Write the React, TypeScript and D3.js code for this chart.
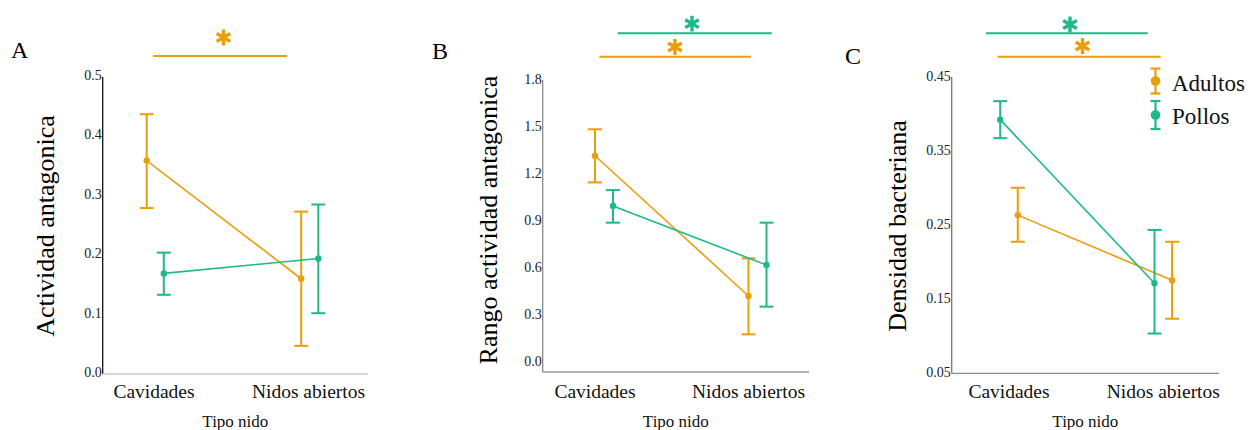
import React from "react";
import * as d3 from "d3";

// ---------- data ----------
const categories = ["Cavidades", "Nidos abiertos"];
const seriesNames = ["Adultos", "Pollos"];

// Panel A: Actividad antagonica
const aAdultosMean = [0.356, 0.157];
const aAdultosLow = [0.276, 0.044];
const aAdultosHigh = [0.434, 0.27];
const aPollosMean = [0.166, 0.191];
const aPollosLow = [0.13, 0.099];
const aPollosHigh = [0.201, 0.282];
const aTicks = [0, 0.1, 0.2, 0.3, 0.4, 0.5];

// Panel B: Rango actividad antagonica
const bAdultosMean = [1.31, 0.415];
const bAdultosLow = [1.14, 0.17];
const bAdultosHigh = [1.479, 0.655];
const bPollosMean = [0.989, 0.613];
const bPollosLow = [0.883, 0.347];
const bPollosHigh = [1.091, 0.883];
const bTicks = [0, 0.3, 0.6, 0.9, 1.2, 1.5, 1.8];

// Panel C: Densidad bacteriana
const cAdultosMean = [0.262, 0.174];
const cAdultosLow = [0.226, 0.122];
const cAdultosHigh = [0.299, 0.226];
const cPollosMean = [0.391, 0.17];
const cPollosLow = [0.366, 0.102];
const cPollosHigh = [0.416, 0.242];
const cTicks = [0.05, 0.15, 0.25, 0.35, 0.45];

// ---------- style ----------
const ORANGE = "#E99E0C";
const GREEN = "#1DBA84";
const SERIF = "'Liberation Serif', 'Times New Roman', serif";

type Series = { name: string; color: string; mean: number[]; low: number[]; high: number[]; dodge: number };
type Sig = { color: string; x1: number; x2: number; y: number; starX: number; starY: number };

type PanelProps = {
  letter: string;
  letterX: number;
  letterY: number;
  title: string;
  titleX: number;
  titleY: number;
  domain: [number, number];
  yRange: [number, number];
  ticks: number[];
  fmt: string;
  axisLeft: number;
  axisRight: number;
  axisTop: number;
  axisBottom: number;
  yAxisColor: string;
  xAxisColor: string;
  catRange: [number, number];
  series: Series[];
  sigs: Sig[];
};

const starPath = d3.symbol().type(d3.symbolAsterisk).size(175)() || "";

function Panel(p: PanelProps) {
  const y = d3.scaleLinear().domain(p.domain).range(p.yRange);
  const x = d3.scalePoint<string>().domain(categories).range(p.catRange);
  const f = d3.format(p.fmt);
  const line = d3
    .line<[number, number]>()
    .x((d) => d[0])
    .y((d) => d[1]);
  const cap = 7;
  return (
    <g>
      <text x={p.letterX} y={p.letterY} fontFamily={SERIF} fontSize={24} fill="#000">
        {p.letter}
      </text>
      {p.sigs.map((s, i) => (
        <g key={i}>
          <line x1={s.x1} x2={s.x2} y1={s.y} y2={s.y} stroke={s.color} strokeWidth={2} />
          <path
            d={starPath}
            transform={`translate(${s.starX},${s.starY})`}
            fill="none"
            stroke={s.color}
            strokeWidth={3.4}
          />
        </g>
      ))}
      {/* axes */}
      <line x1={p.axisLeft} x2={p.axisLeft} y1={p.axisTop} y2={p.axisBottom} stroke={p.yAxisColor} strokeWidth={1.3} />
      <line x1={p.axisLeft} x2={p.axisRight} y1={p.axisBottom} y2={p.axisBottom} stroke={p.xAxisColor} strokeWidth={1.3} />
      {p.ticks.map((t) => (
        <text
          key={t}
          x={p.axisLeft - 1}
          y={y(t)}
          dy="0.35em"
          textAnchor="end"
          fontFamily={SERIF}
          fontSize={14}
          fill="#222"
        >
          {f(t)}
        </text>
      ))}
      {categories.map((c) => (
        <text key={c} x={x(c)} y={398} textAnchor="middle" fontFamily={SERIF} fontSize={19.5} fill="#111">
          {c}
        </text>
      ))}
      <text
        x={(p.axisLeft + p.axisRight) / 2}
        y={427}
        textAnchor="middle"
        fontFamily={SERIF}
        fontSize={17}
        fill="#111"
      >
        Tipo nido
      </text>
      <text
        transform={`translate(${p.titleX},${p.titleY}) rotate(-90)`}
        textAnchor="middle"
        dy="0.35em"
        fontFamily={SERIF}
        fontSize={26}
        fill="#000"
      >
        {p.title}
      </text>
      {p.series.map((s) => {
        const pts: [number, number][] = categories.map((c, i) => [(x(c) as number) + s.dodge, y(s.mean[i])]);
        return (
          <g key={s.name}>
            {categories.map((c, i) => {
              const cx = (x(c) as number) + s.dodge;
              return (
                <g key={c}>
                  <line x1={cx} x2={cx} y1={y(s.low[i])} y2={y(s.high[i])} stroke={s.color} strokeWidth={2} />
                  <line x1={cx - cap} x2={cx + cap} y1={y(s.low[i])} y2={y(s.low[i])} stroke={s.color} strokeWidth={2} />
                  <line x1={cx - cap} x2={cx + cap} y1={y(s.high[i])} y2={y(s.high[i])} stroke={s.color} strokeWidth={2} />
                </g>
              );
            })}
            <path d={line(pts) || ""} fill="none" stroke={s.color} strokeWidth={1.6} />
            {pts.map((pt, i) => (
              <circle key={i} cx={pt[0]} cy={pt[1]} r={3.2} fill={s.color} />
            ))}
          </g>
        );
      })}
    </g>
  );
}

export default function App() {
  const A: PanelProps = {
    letter: "A",
    letterX: 11,
    letterY: 58,
    title: "Actividad antagonica",
    titleX: 45,
    titleY: 226,
    domain: [0, 0.5],
    yRange: [372, 75],
    ticks: aTicks,
    fmt: ".1f",
    axisLeft: 102.7,
    axisRight: 368,
    axisTop: 77,
    axisBottom: 374,
    yAxisColor: "#111",
    xAxisColor: "#c8c8c8",
    catRange: [154, 308.5],
    series: [
      { name: seriesNames[0], color: ORANGE, mean: aAdultosMean, low: aAdultosLow, high: aAdultosHigh, dodge: -7.3 },
      { name: seriesNames[1], color: GREEN, mean: aPollosMean, low: aPollosLow, high: aPollosHigh, dodge: 9.8 },
    ],
    sigs: [{ color: ORANGE, x1: 153, x2: 287, y: 56, starX: 223.5, starY: 37.5 }],
  };
  const B: PanelProps = {
    letter: "B",
    letterX: 432,
    letterY: 59,
    title: "Rango actividad antagonica",
    titleX: 488,
    titleY: 220,
    domain: [0, 1.8],
    yRange: [361, 79],
    ticks: bTicks,
    fmt: ".1f",
    axisLeft: 542.7,
    axisRight: 809,
    axisTop: 80,
    axisBottom: 372,
    yAxisColor: "#8a8a8a",
    xAxisColor: "#9a9a9a",
    catRange: [595, 748.5],
    series: [
      { name: seriesNames[0], color: ORANGE, mean: bAdultosMean, low: bAdultosLow, high: bAdultosHigh, dodge: 0 },
      { name: seriesNames[1], color: GREEN, mean: bPollosMean, low: bPollosLow, high: bPollosHigh, dodge: 18 },
    ],
    sigs: [
      { color: GREEN, x1: 617.7, x2: 771.7, y: 33.3, starX: 692, starY: 23.7 },
      { color: ORANGE, x1: 599.3, x2: 751, y: 56.7, starX: 675, starY: 47 },
    ],
  };
  const C: PanelProps = {
    letter: "C",
    letterX: 845,
    letterY: 64,
    title: "Densidad bacteriana",
    titleX: 897,
    titleY: 226,
    domain: [0.05, 0.45],
    yRange: [372, 76],
    ticks: cTicks,
    fmt: ".2f",
    axisLeft: 951.7,
    axisRight: 1219,
    axisTop: 77,
    axisBottom: 373.3,
    yAxisColor: "#777",
    xAxisColor: "#8a8a8a",
    catRange: [1009, 1163.3],
    series: [
      { name: seriesNames[0], color: ORANGE, mean: cAdultosMean, low: cAdultosLow, high: cAdultosHigh, dodge: 8.8 },
      { name: seriesNames[1], color: GREEN, mean: cPollosMean, low: cPollosLow, high: cPollosHigh, dodge: -8.8 },
    ],
    sigs: [
      { color: GREEN, x1: 986, x2: 1147.7, y: 33.3, starX: 1070, starY: 24.5 },
      { color: ORANGE, x1: 997.7, x2: 1160.7, y: 56.7, starX: 1082.5, starY: 46 },
    ],
  };
  const legend = [
    { name: seriesNames[0], color: ORANGE, top: 68.5, bottom: 93.5, cy: 81, ty: 90.5 },
    { name: seriesNames[1], color: GREEN, top: 101, bottom: 129, cy: 115, ty: 123.5 },
  ];
  return (
    <svg
      width={1256}
      height={430}
      style={{ position: "absolute", left: 0, top: 0, background: "#fff" }}
    >
      <rect width={1256} height={430} fill="#fff" />
      <Panel {...A} />
      <Panel {...B} />
      <Panel {...C} />
      {legend.map((l) => (
        <g key={l.name}>
          <line x1={1155.5} x2={1155.5} y1={l.top} y2={l.bottom} stroke={l.color} strokeWidth={2.2} />
          <line x1={1150.5} x2={1160.5} y1={l.top} y2={l.top} stroke={l.color} strokeWidth={2.2} />
          <line x1={1150.5} x2={1160.5} y1={l.bottom} y2={l.bottom} stroke={l.color} strokeWidth={2.2} />
          <circle cx={1155.5} cy={l.cy} r={4.8} fill={l.color} />
          <text x={1172} y={l.ty} fontFamily={SERIF} fontSize={23} fill="#111">
            {l.name}
          </text>
        </g>
      ))}
    </svg>
  );
}
